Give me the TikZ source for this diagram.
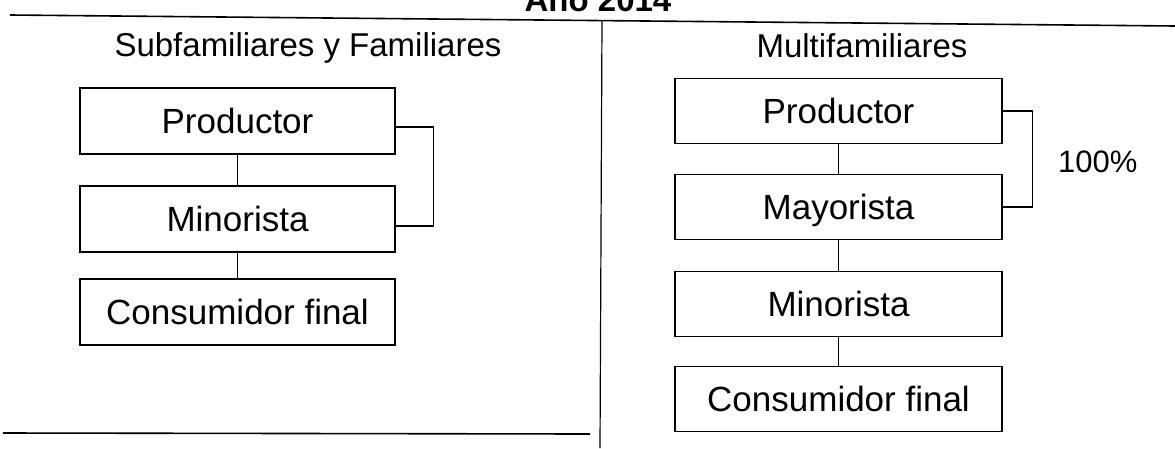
\documentclass[tikz,border=0pt]{standalone}
\usepackage{fontspec}
\setmainfont{Liberation Sans}
\usepackage{graphicx}
\begin{document}
\begin{tikzpicture}[x=1pt,y=-1pt,
  boxL/.style={draw,line width=1.4pt,minimum width=315pt,minimum height=66pt,inner sep=0pt,
    text height=25pt,text depth=0pt,font=\fontsize{35}{40}\selectfont},
  boxR/.style={draw,line width=1.4pt,minimum width=327pt,minimum height=65pt,inner sep=0pt,
    text height=25pt,text depth=0pt,font=\fontsize{35}{40}\selectfont},
  head/.style={anchor=base,inner sep=0pt,font=\fontsize{33}{40}\selectfont},
  conn/.style={line width=1.4pt},
  rule/.style={line width=1.6pt}]
\useasboundingbox (0,0) rectangle (1175,448);
% title (cut off at top)
\node[anchor=base,inner sep=0pt,font=\fontsize{33}{40}\selectfont\bfseries] (title) at (598,11) {Año 2014};
% frame lines
\coordinate (tl) at (10,15);
\coordinate (tr) at (1175,26);
\coordinate (dtop) at (602,20);
\coordinate (dbot) at (600,448);
\coordinate (bl) at (3,433);
\coordinate (br) at (590,434);
\draw[rule] (tl) -- (tr);
\draw[line width=1.2pt] (dtop) -- (dbot);
\draw[rule] (bl) -- (br);
% headings
\node[head] (hL) at (308,56) {Subfamiliares y Familiares};
\node[head] (hR) at (862,57) {Multifamiliares};
% left column
\node[boxL] (PL) at (237.5,121) {Productor};
\node[boxL] (ML) at (237.5,219) {Minorista};
\node[boxL] (CL) at (237.5,312) {Consumidor final};
\draw[conn] (PL) -- (ML);
\draw[conn] (ML) -- (CL);
\draw[conn] ([yshift=-6pt]PL.east) -- ++(38,0) |- ([yshift=-7pt]ML.east);
% right column
\node[boxR] (PR) at (838.5,111) {Productor};
\node[boxR] (MR) at (838.5,207) {Mayorista};
\node[boxR] (NR) at (838.5,304) {Minorista};
\node[boxR] (CR) at (838.5,399) {Consumidor final};
\draw[conn] (PR) -- (MR);
\draw[conn] (MR) -- (NR);
\draw[conn] (NR) -- (CR);
\draw[conn] (PR.east) -- ++(30,0) |- (MR.east);
\node[anchor=base west,inner sep=0pt,font=\fontsize{31}{36}\selectfont] (pct) at (1058,172) {100\%};
\end{tikzpicture}
\end{document}
